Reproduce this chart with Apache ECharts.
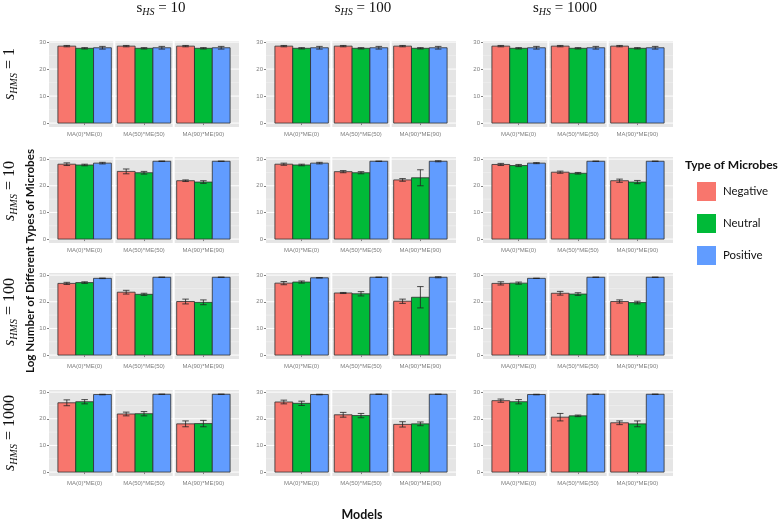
<!DOCTYPE html>
<html><head><meta charset="utf-8">
<script src="https://cdn.jsdelivr.net/npm/echarts@6/dist/echarts.min.js"></script>
<style>html,body{margin:0;padding:0;background:#fff}#c{width:778px;height:521px}</style>
</head><body><div id="c"></div>
<script>
// ---------- DATA ----------
const hsValues = ['10', '100', '1000'];          // columns (s_HS)
const hmsValues = ['1', '10', '100', '1000'];    // rows (s_HMS)
const models = ['MA(0)*ME(0)', 'MA(50)*ME(50)', 'MA(90)*ME(90)'];
const types = ['Negative', 'Neutral', 'Positive'];
const yTicks = [0, 10, 20, 30];

// means: [s_HMS row][s_HS column][model]
const negativeMean = [
  [[28.5, 28.5, 28.5], [28.5, 28.5, 28.5], [28.5, 28.5, 28.5]],
  [[28.1, 25.4, 21.9], [28.1, 25.3, 22.2], [28.0, 25.1, 21.9]],
  [[26.9, 23.6, 20.1], [27.0, 23.3, 20.2], [26.9, 23.2, 20.1]],
  [[26.0, 21.8, 18.1], [26.3, 21.5, 17.9], [26.8, 20.6, 18.5]]
];
const neutralMean = [
  [[27.7, 27.7, 27.7], [27.7, 27.7, 27.7], [27.7, 27.7, 27.7]],
  [[27.8, 24.9, 21.4], [27.8, 24.9, 23.0], [27.6, 24.7, 21.4]],
  [[27.2, 22.8, 19.8], [27.4, 23.0, 21.7], [27.0, 22.9, 19.7]],
  [[26.4, 21.9, 18.2], [25.8, 21.2, 18.1], [26.4, 21.1, 18.1]]
];
const positiveMean = [
  [[27.9, 27.9, 27.9], [27.9, 27.9, 27.9], [27.9, 27.9, 27.9]],
  [[28.5, 29.2, 29.2], [28.5, 29.2, 29.2], [28.5, 29.2, 29.2]],
  [[28.8, 29.2, 29.2], [29.0, 29.2, 29.2], [28.8, 29.2, 29.2]],
  [[29.1, 29.2, 29.2], [29.1, 29.2, 29.2], [29.1, 29.2, 29.2]]
];
// error half-widths: same layout
const negativeErr = [
  [[0.25, 0.25, 0.25], [0.25, 0.25, 0.25], [0.25, 0.25, 0.25]],
  [[0.5, 0.9, 0.3], [0.4, 0.4, 0.5], [0.4, 0.4, 0.6]],
  [[0.4, 0.7, 0.9], [0.6, 0.2, 0.8], [0.6, 0.7, 0.6]],
  [[1.1, 0.7, 1.1], [0.7, 0.9, 1.0], [0.6, 1.4, 0.7]]
];
const neutralErr = [
  [[0.25, 0.25, 0.25], [0.25, 0.25, 0.25], [0.25, 0.25, 0.25]],
  [[0.3, 0.5, 0.5], [0.3, 0.4, 3.0], [0.4, 0.3, 0.6]],
  [[0.3, 0.4, 0.9], [0.4, 0.8, 4.0], [0.4, 0.5, 0.5]],
  [[0.8, 0.8, 1.2], [0.8, 0.8, 0.7], [0.8, 0.3, 1.1]]
];
const positiveErr = [
  [[0.5, 0.5, 0.5], [0.5, 0.5, 0.5], [0.5, 0.5, 0.5]],
  [[0.3, 0.1, 0.0], [0.3, 0.05, 0.2], [0.2, 0.05, 0.0]],
  [[0.1, 0.0, 0.0], [0.05, 0.0, 0.2], [0.05, 0.0, 0.0]],
  [[0.1, 0.0, 0.0], [0.1, 0.0, 0.0], [0.1, 0.0, 0.0]]
];

// ---------- LAYOUT / STYLE ----------
const colors = ['#F8766D', '#00BA38', '#619CFF'];
const colLeft = [49, 266, 483];
const rowTop = [41, 157, 273, 390];
const panelW = 190, panelH = 86;
const yMin = [-1.45, -1.47, -1.47, -1.47];
const yMax = [30.4, 30.8, 30.8, 30.8];
const dodge = 0.3, halfBar = 0.15, halfCap = 0.055;
const majorLines = [0, 10, 20, 30], minorLines = [5, 15, 25], separators = [1.5, 2.5];
const colTitleX = [161, 363, 565];
const rowLabelY = [74, 191, 312, 433];

function fitFont(text, family, weight, target) {
  const ctx = document.createElement('canvas').getContext('2d');
  ctx.font = weight + ' 100px ' + family;
  return 100 * target / ctx.measureText(text).width;
}

const meanArrays = [negativeMean, neutralMean, positiveMean];
const errArrays = [negativeErr, neutralErr, positiveErr];

function barRender(color) {
  return function (params, api) {
    const x = api.value(0), y = api.value(1);
    const p0 = api.coord([x - halfBar, y]);
    const p1 = api.coord([x + halfBar, 0]);
    return {
      type: 'rect',
      shape: { x: p0[0], y: p0[1], width: p1[0] - p0[0], height: p1[1] - p0[1] },
      style: { fill: color, stroke: '#2e2e2e', lineWidth: 0.8 }
    };
  };
}
function errRender(params, api) {
  const x = api.value(0), lo = api.value(1), hi = api.value(2);
  const a = api.coord([x, lo]), b = api.coord([x, hi]);
  const l = api.coord([x - halfCap, lo])[0], r = api.coord([x + halfCap, lo])[0];
  const st = { stroke: '#222', lineWidth: 0.8 };
  return {
    type: 'group', children: [
      { type: 'line', shape: { x1: a[0], y1: a[1], x2: b[0], y2: b[1] }, style: st },
      { type: 'line', shape: { x1: l, y1: a[1], x2: r, y2: a[1] }, style: st },
      { type: 'line', shape: { x1: l, y1: b[1], x2: r, y2: b[1] }, style: st }
    ]
  };
}
function gridRender(params, api) {
  const cs = params.coordSys;
  const ch = [];
  minorLines.forEach(v => {
    const y = api.coord([2, v])[1];
    ch.push({ type: 'line', shape: { x1: cs.x, y1: y, x2: cs.x + cs.width, y2: y }, style: { stroke: '#F2F2F2', lineWidth: 0.6 } });
  });
  majorLines.forEach(v => {
    const y = api.coord([2, v])[1];
    ch.push({ type: 'line', shape: { x1: cs.x, y1: y, x2: cs.x + cs.width, y2: y }, style: { stroke: '#ffffff', lineWidth: 1 } });
  });
  separators.forEach(v => {
    const x = api.coord([v, 0])[0];
    ch.push({ type: 'line', shape: { x1: x, y1: cs.y, x2: x, y2: cs.y + cs.height }, style: { stroke: '#ffffff', lineWidth: 2 } });
  });
  return { type: 'group', children: ch };
}

const grids = [], xAxes = [], yAxes = [], series = [];
rowTop.forEach((top, r) => {
  colLeft.forEach((left, c) => {
    const gi = grids.length;
    grids.push({ left, top, width: panelW, height: panelH, show: true, backgroundColor: '#E5E5E5', borderWidth: 0 });
    xAxes.push({
      type: 'value', gridIndex: gi, min: 0.4, max: 3.6,
      axisLine: { show: false }, splitLine: { show: false },
      axisTick: { show: true, customValues: [1, 2, 3], length: 2, lineStyle: { color: '#7F7F7F' } },
      axisLabel: {
        customValues: [1, 2, 3], margin: 4, fontSize: 6, color: '#7F7F7F', fontFamily: 'Liberation Sans',
        formatter: v => (Number.isInteger(v) && v >= 1 && v <= 3) ? models[v - 1] : ''
      }
    });
    yAxes.push({
      type: 'value', gridIndex: gi, min: yMin[r], max: yMax[r],
      axisLine: { show: false }, splitLine: { show: false },
      axisTick: { show: true, customValues: yTicks, length: 2, lineStyle: { color: '#7F7F7F' } },
      axisLabel: {
        customValues: yTicks, margin: 3, fontSize: 6, color: '#7F7F7F', fontFamily: 'Liberation Sans',
        formatter: v => (yTicks.indexOf(v) >= 0) ? String(v) : ''
      }
    });
    series.push({ type: 'custom', xAxisIndex: gi, yAxisIndex: gi, z: 1, silent: true, data: [[2, 15]], renderItem: gridRender });
    const errData = [];
    types.forEach((t, k) => {
      const pts = models.map((m, j) => [j + 1 + (k - 1) * dodge, meanArrays[k][r][c][j]]);
      series.push({
        type: 'custom', name: t, xAxisIndex: gi, yAxisIndex: gi, z: 2,
        itemStyle: { color: colors[k] }, data: pts, renderItem: barRender(colors[k])
      });
      models.forEach((m, j) => {
        const mu = meanArrays[k][r][c][j], e = errArrays[k][r][c][j];
        errData.push([j + 1 + (k - 1) * dodge, mu - e, mu + e]);
      });
    });
    series.push({
      type: 'custom', name: 'errorbars', xAxisIndex: gi, yAxisIndex: gi, z: 3,
      encode: { x: 0, y: [1, 2] }, data: errData, renderItem: errRender
    });
  });
});

const sansB = 'Lato';
const yTitle = 'Log Number of Different Types of Microbes';
const yTitleSize = fitFont(yTitle, sansB, 'bold', 224);
const modelsSize = fitFont('Models', sansB, 'bold', 41);
const legTitleSize = fitFont('Type of Microbes', sansB, 'bold', 93);
const legLabelSize = fitFont('Negative', sansB, 'normal', 45);

const graphic = [];
hsValues.forEach((v, c) => {
  graphic.push({
    type: 'text', x: colTitleX[c], y: 8,
    style: {
      text: '{s|s}{sub|HS}{n| = ' + v + '}', align: 'center', verticalAlign: 'middle',
      rich: {
        s: { fontFamily: 'Liberation Serif', fontSize: 15, fill: '#111' },
        sub: { fontFamily: 'Liberation Serif', fontSize: 10, fontStyle: 'italic', fill: '#111', padding: [9, 0, 0, 0] },
        n: { fontFamily: 'Liberation Serif', fontSize: 15, fill: '#111' }
      }
    }
  });
});
hmsValues.forEach((v, r) => {
  graphic.push({
    type: 'text', x: 10, y: rowLabelY[r], rotation: Math.PI / 2,
    style: {
      text: '{s|s}{sub|HMS}{n| = ' + v + '}', align: 'center', verticalAlign: 'middle',
      rich: {
        s: { fontFamily: 'Liberation Serif', fontSize: 16, fontStyle: 'italic', fill: '#111' },
        sub: { fontFamily: 'Liberation Serif', fontSize: 10, fontStyle: 'italic', fill: '#111', padding: [9, 0, 0, 0] },
        n: { fontFamily: 'Liberation Serif', fontSize: 16, fill: '#111' }
      }
    }
  });
});
graphic.push({
  type: 'text', x: 30, y: 261, rotation: Math.PI / 2,
  style: { text: yTitle, align: 'center', verticalAlign: 'middle', fontFamily: sansB, fontWeight: 'bold', fontSize: yTitleSize, fill: '#111' }
});
graphic.push({
  type: 'text', x: 362, y: 515,
  style: { text: 'Models', align: 'center', verticalAlign: 'middle', fontFamily: sansB, fontWeight: 'bold', fontSize: modelsSize, fill: '#111' }
});
graphic.push({
  type: 'text', x: 685, y: 165,
  style: { text: 'Type of Microbes', align: 'left', verticalAlign: 'middle', fontFamily: sansB, fontWeight: 'bold', fontSize: legTitleSize, fill: '#111' }
});

const chart = echarts.init(document.getElementById('c'), null, { renderer: 'canvas', width: 778, height: 521 });
chart.setOption({
  animation: false,
  backgroundColor: '#ffffff',
  grid: grids, xAxis: xAxes, yAxis: yAxes, series,
  legend: {
    data: types, orient: 'vertical', left: 697, top: 182, padding: 0,
    itemWidth: 19, itemHeight: 19, itemGap: 13, icon: 'rect', selectedMode: false,
    textStyle: { fontFamily: sansB, fontSize: legLabelSize, color: '#111', padding: [0, 0, 0, 2] }
  },
  graphic
});
</script>
</body></html>
